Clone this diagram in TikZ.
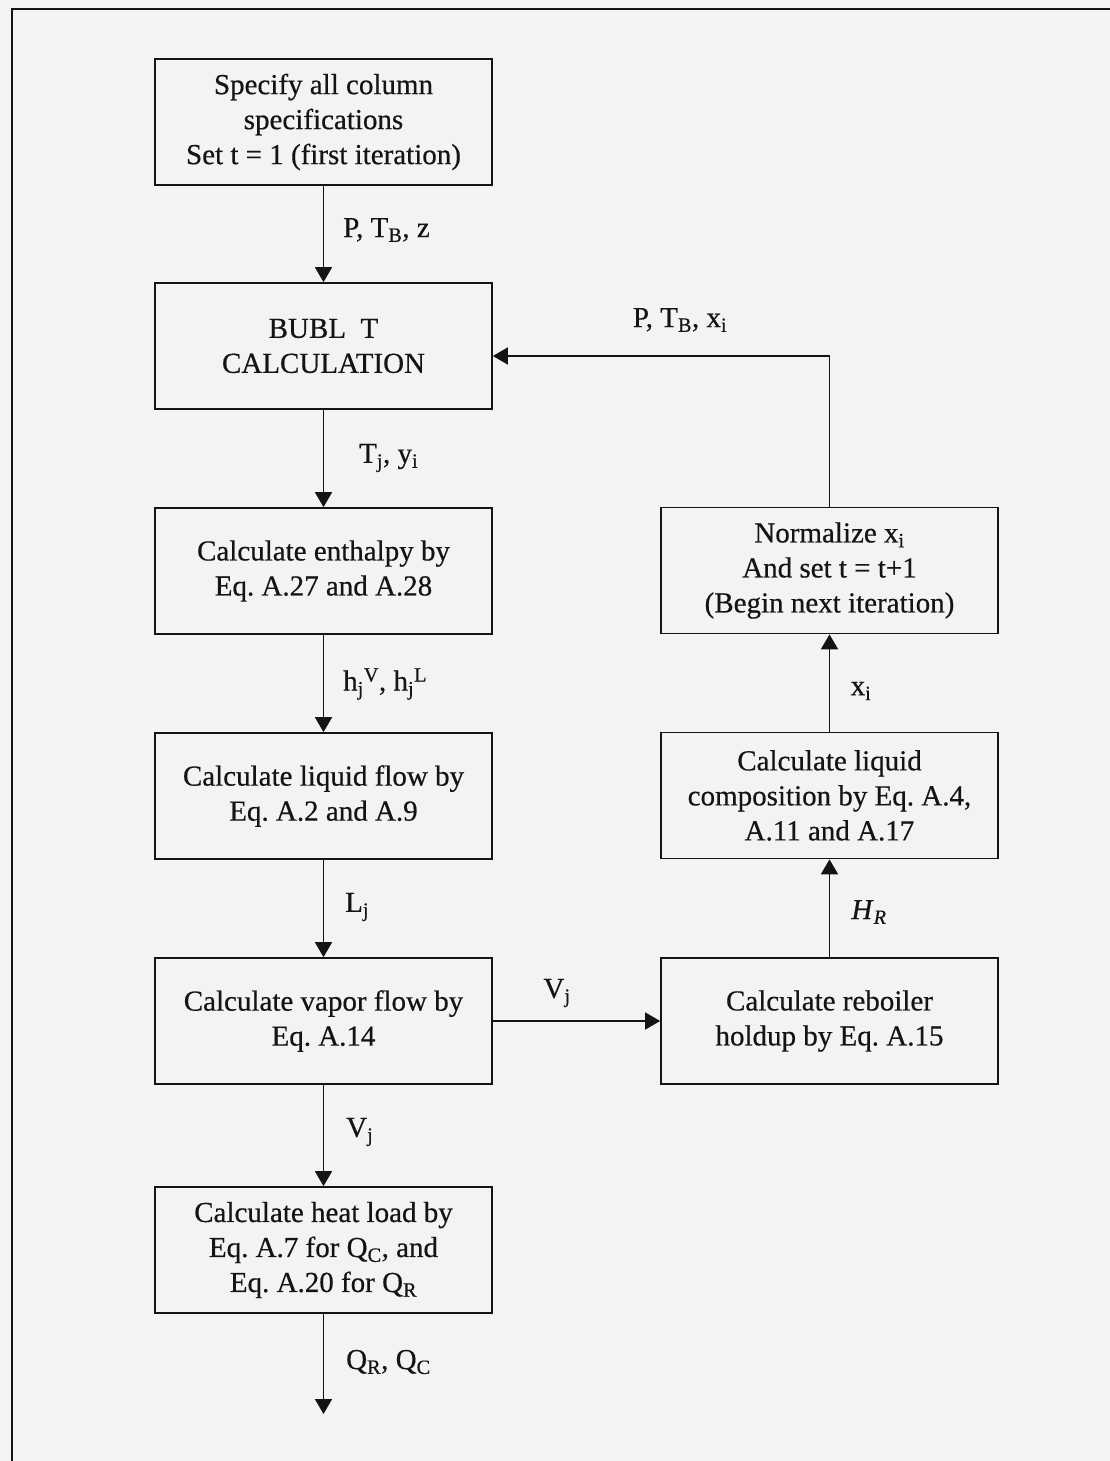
\documentclass[tikz,border=0pt]{standalone}
\usepackage{fontspec}
\setmainfont[FakeBold=0.5]{Liberation Serif}
\usetikzlibrary{arrows.meta}
\definecolor{bg}{RGB}{243,243,243}
\definecolor{ink}{RGB}{20,20,20}
\tikzset{
  stepbox/.style={draw=ink, line width=1.7pt, minimum width=337pt, minimum height=126pt,
    inner sep=0pt, align=center, font=\fontsize{29}{35}\selectfont\frenchspacing, text=ink},
  arr/.style={draw=ink, line width=1.7pt, -{Triangle[length=15pt,width=17pt]}},
  lbl/.style={font=\fontsize{29}{35}\selectfont\frenchspacing, text=ink, inner sep=0pt},
}
\begin{document}
\begin{tikzpicture}[x=1pt,y=-1pt]
\fill[bg] (0,0) rectangle (1110,1461);
\useasboundingbox (0,0) rectangle (1110,1461);
\draw[ink, line width=2.4pt] (12,1461) -- (12,9) -- (1110,9);

% left column
\node[stepbox] (b1) at (323.5,122) {Specify all column\\specifications\\Set t = 1 (first iteration)};
\node[stepbox] (b2) at (323.5,346) {BUBL\ \ T\\CALCULATION};
\node[stepbox] (b3) at (323.5,571) {Calculate enthalpy by\\Eq. A.27 and A.28};
\node[stepbox] (b4) at (323.5,796) {Calculate liquid flow by\\Eq. A.2 and A.9};
\node[stepbox] (b5) at (323.5,1021) {Calculate vapor flow by\\Eq. A.14};
\node[stepbox] (b6) at (323.5,1250) {Calculate heat load by\\Eq. A.7 for Q\textsubscript{C}, and\\Eq. A.20 for Q\textsubscript{R}};

% right column
\node[stepbox] (r3) at (829.5,570.5) {Normalize x\textsubscript{i}\\And set t = t+1\\(Begin next iteration)};
\node[stepbox] (r2) at (829.5,795.5) {Calculate liquid\\composition by Eq. A.4,\\A.11 and A.17};
\node[stepbox] (r1) at (829.5,1021) {Calculate reboiler\\holdup by Eq. A.15};

\coordinate (out) at (323.5,1414);
\coordinate (loopc) at (829.5,356);

% connectors
\draw[arr] (b1) -- (b2);
\draw[arr] (b2) -- (b3);
\draw[arr] (b3) -- (b4);
\draw[arr] (b4) -- (b5);
\draw[arr] (b5) -- (b6);
\draw[arr] (b6) -- (out);
\draw[arr] (b5) -- (r1);
\draw[arr] (r1) -- (r2);
\draw[arr] (r2) -- (r3);
\draw[arr] (r3.north) -- (loopc) -- (loopc -| b2.east);

% labels
\node[lbl, anchor=west] (l1) at (343,230) {P, T\textsubscript{B}, z};
\node[lbl, anchor=west] (l2) at (359,458) {T\textsubscript{j}, y\textsubscript{i}};
\node[lbl, anchor=west] (l3) at (343,684) {h\textsubscript{j}\textsuperscript{V}, h\textsubscript{j}\textsuperscript{L}};
\node[lbl, anchor=west] (l4) at (345,907) {L\textsubscript{j}};
\node[lbl, anchor=west] (l5) at (346,1132) {V\textsubscript{j}};
\node[lbl, anchor=west] (l6) at (346,1362) {Q\textsubscript{R}, Q\textsubscript{C}};
\node[lbl] (l7) at (557,993) {V\textsubscript{j}};
\node[lbl] (l8) at (869,912) {\textit{H}\textsubscript{\textit{R}}};
\node[lbl] (l9) at (861,691) {x\textsubscript{i}};
\node[lbl] (l10) at (680,320) {P, T\textsubscript{B}, x\textsubscript{i}};
\end{tikzpicture}
\end{document}
